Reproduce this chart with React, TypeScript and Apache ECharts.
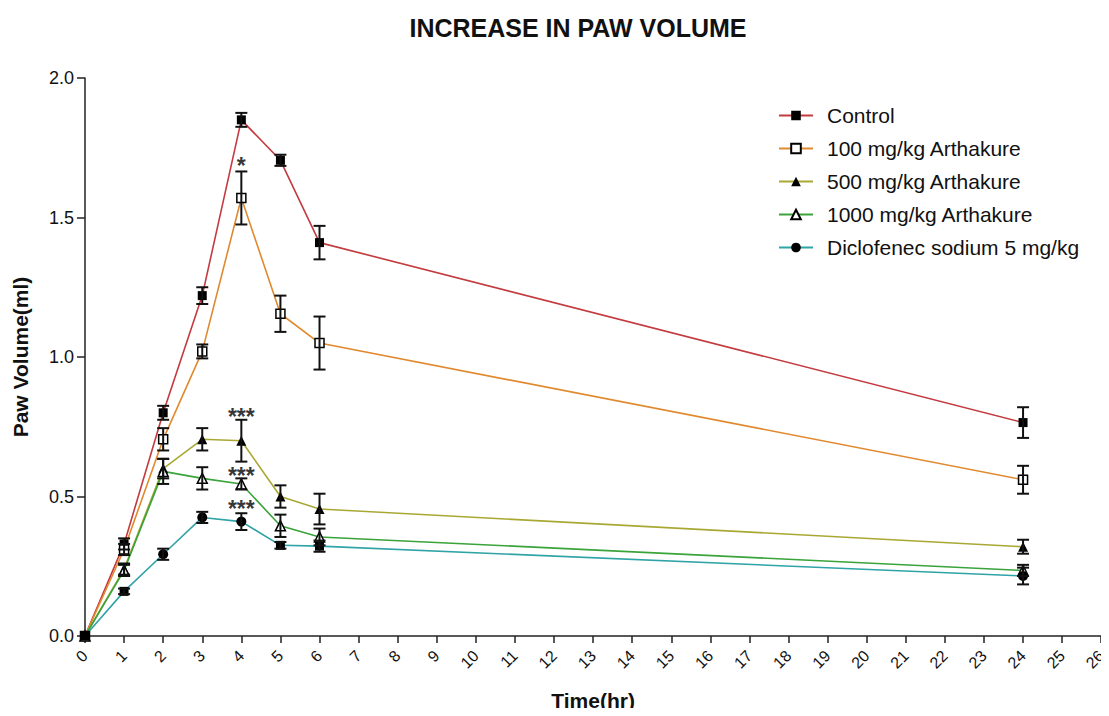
import React, { useEffect, useRef } from "react";
import * as echarts from "echarts";

const times = [0, 1, 2, 3, 4, 5, 6, 24];
const seriesNames = [
  "Control",
  "100 mg/kg Arthakure",
  "500 mg/kg Arthakure",
  "1000 mg/kg Arthakure",
  "Diclofenec sodium 5 mg/kg",
];
const controlMean = [0, 0.33, 0.8, 1.22, 1.85, 1.705, 1.41, 0.765];
const controlErr = [0, 0.02, 0.025, 0.03, 0.025, 0.02, 0.06, 0.055];
const ark100Mean = [0, 0.31, 0.705, 1.02, 1.57, 1.155, 1.05, 0.56];
const ark100Err = [0, 0.02, 0.04, 0.025, 0.095, 0.065, 0.095, 0.05];
const ark500Mean = [0, 0.24, 0.6, 0.705, 0.7, 0.5, 0.455, 0.32];
const ark500Err = [0, 0.02, 0.035, 0.04, 0.075, 0.04, 0.055, 0.025];
const ark1000Mean = [0, 0.235, 0.59, 0.565, 0.545, 0.395, 0.355, 0.235];
const ark1000Err = [0, 0.02, 0.045, 0.04, 0.02, 0.04, 0.03, 0.02];
const dicloMean = [0, 0.16, 0.293, 0.425, 0.41, 0.325, 0.322, 0.215];
const dicloErr = [0, 0.01, 0.02, 0.02, 0.03, 0.012, 0.02, 0.03];
// per-point marker shapes of the Diclofenac series as printed in the figure
const dicloPointSymbols = ["rect", "rect", "circle", "circle", "circle", "rect", "rect", "circle"];
const colors = ["#c33a3f", "#e0892e", "#a9a834", "#3aa33a", "#2fa3a6"];
const symbols = ["rect", "rect", "triangle", "triangle", "circle"];
const hollow = [false, true, false, true, false];
const xTicks = [0, 26];
const yTicks = [0, 2];
const sigMarks = [
  { x: 4, y: 1.686, text: "*" },
  { x: 4, y: 0.786, text: "***" },
  { x: 4, y: 0.575, text: "***" },
  { x: 4, y: 0.455, text: "***" },
];

const means = [controlMean, ark100Mean, ark500Mean, ark1000Mean, dicloMean];
const errs = [controlErr, ark100Err, ark500Err, ark1000Err, dicloErr];

export default function App() {
  const ref = useRef<HTMLDivElement>(null);
  useEffect(() => {
    if (!ref.current) return;
    const chart = echarts.init(ref.current, null, { renderer: "svg" });
    const font = "Liberation Sans, Arial, sans-serif";
    const lineSeries: any[] = seriesNames.map((name, i) => ({
      name,
      type: "line",
      data: times.map((t, j) =>
        i === 4
          ? { value: [t, means[i][j]], symbol: dicloPointSymbols[j], symbolSize: dicloPointSymbols[j] === "rect" ? 9 : 10 }
          : [t, means[i][j]]
      ),
      symbol: symbols[i],
      symbolSize: symbols[i] === "triangle" ? 10 : 9,
      lineStyle: { color: colors[i], width: 1.6 },
      itemStyle: hollow[i]
        ? { color: "#fff", borderColor: "#000", borderWidth: 1.5 }
        : { color: "#000", borderColor: "#000", borderWidth: 0 },
      z: 3,
    }));
    const errSeries: any[] = seriesNames.map((name, i) => ({
      name: name + " err",
      type: "custom",
      data: times
        .map((t, j) => [t, means[i][j] - errs[i][j], means[i][j] + errs[i][j]])
        .filter((d) => d[2] - d[1] > 0),
      renderItem: (params: any, api: any) => {
        const x = api.value(0);
        const lo = api.coord([x, api.value(1)]);
        const hi = api.coord([x, api.value(2)]);
        const w = 6;
        const style = { stroke: "#111", lineWidth: 2 };
        return {
          type: "group",
          children: [
            { type: "line", shape: { x1: lo[0], y1: lo[1], x2: hi[0], y2: hi[1] }, style },
            { type: "line", shape: { x1: lo[0] - w, y1: lo[1], x2: lo[0] + w, y2: lo[1] }, style },
            { type: "line", shape: { x1: hi[0] - w, y1: hi[1], x2: hi[0] + w, y2: hi[1] }, style },
          ],
        };
      },
      z: 4,
      silent: true,
    }));
    const starSeries = {
      name: "sig",
      type: "scatter",
      symbolSize: 0,
      data: sigMarks.map((m) => ({ value: [m.x, m.y], text: m.text })),
      label: {
        show: true,
        position: "inside",
        formatter: (p: any) => p.data.text,
        color: "#000",
        fontSize: 23,
        fontWeight: "bold",
        fontFamily: font,
      },
      z: 5,
    };
    chart.setOption({
      animation: false,
      backgroundColor: "#fff",
      title: {
        text: "INCREASE IN PAW VOLUME",
        left: 573,
        textAlign: "center",
        top: 10,
        textStyle: { fontSize: 25, fontWeight: "bold", color: "#111", fontFamily: font },
      },
      legend: {
        data: seriesNames,
        orient: "vertical",
        left: 773,
        top: 100,
        itemWidth: 34,
        itemHeight: 12,
        itemGap: 12,
        textStyle: { fontSize: 21, color: "#111", fontFamily: font, padding: [0, 0, 0, 9] },
      },
      grid: { left: 85, right: 7, top: 78, bottom: 78, containLabel: false },
      xAxis: {
        type: "value",
        min: xTicks[0],
        max: xTicks[1],
        interval: 1,
        name: "Time(hr)",
        nameLocation: "middle",
        nameGap: 54,
        nameTextStyle: { fontSize: 21, fontWeight: "bold", color: "#111", fontFamily: font },
        axisLine: { show: true, lineStyle: { color: "#222", width: 1.5 } },
        axisTick: { show: true, length: 7, lineStyle: { color: "#222", width: 1.5 } },
        axisLabel: { rotate: 45, fontSize: 16, color: "#111", margin: 17, fontFamily: font, showMaxLabel: true },
        splitLine: { show: false },
      },
      yAxis: {
        type: "value",
        min: yTicks[0],
        max: yTicks[1],
        interval: 0.5,
        name: "Paw Volume(ml)",
        nameLocation: "middle",
        nameGap: 54,
        nameTextStyle: { fontSize: 21, fontWeight: "bold", color: "#111", fontFamily: font },
        axisLine: { show: true, lineStyle: { color: "#222", width: 1.5 } },
        axisTick: { show: true, length: 8, lineStyle: { color: "#222", width: 1.5 } },
        axisLabel: {
          fontSize: 18,
          color: "#111",
          margin: 11,
          fontFamily: font,
          formatter: (v: number) => v.toFixed(1),
        },
        splitLine: { show: false },
      },
      series: [...lineSeries, ...errSeries, starSeries],
    });
    return () => chart.dispose();
  }, []);
  return <div ref={ref} style={{ width: 1109, height: 716, margin: -8 }} />;
}
